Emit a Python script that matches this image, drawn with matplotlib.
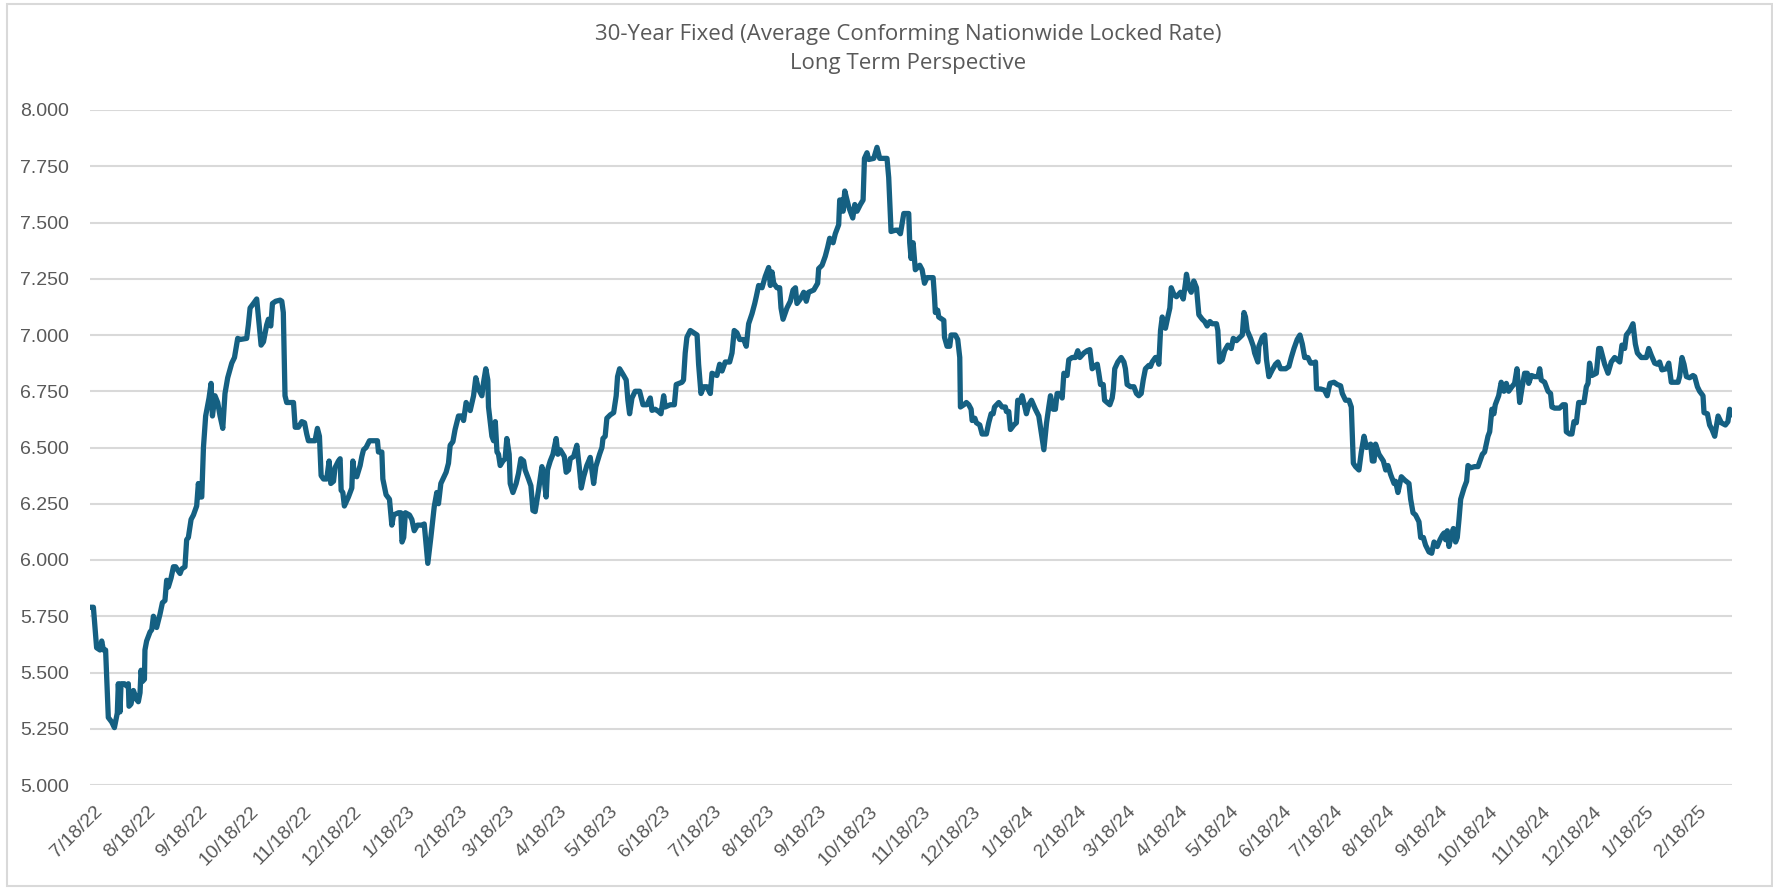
import matplotlib
matplotlib.use("Agg")
import matplotlib.pyplot as plt
import matplotlib.transforms as mtransforms
from matplotlib.patches import Rectangle
from matplotlib.ticker import FixedLocator, FormatStrFormatter
import pandas as pd
import numpy as np

# ---------------- data ----------------
START_DATE = "2022-07-18"

# day offsets from START_DATE and 30-yr fixed locked rate (%)
days_1 = [0, 2, 3.9, 5.9, 6.9, 7.9, 9.2, 10.8, 12.8, 14.4, 16.1, 16.7, 17.7, 18.3, 20.3, 21.6, 22.6, 23, 24.2, 25.6,
          27.5, 28.5, 29.5, 30.1, 30.9, 32.1, 32.4, 33.4, 35.4, 36.4, 37.4, 39.3, 41.3, 42.7, 44.2, 45.2, 46.2, 47.8,
          49.2, 50.5, 51.7, 53.1, 54.1, 56, 57, 58, 59.6, 61, 62.9, 63.9, 64.9, 65.9, 66.9, 68.2, 70.2, 71.4, 72.2,
          73.7, 75.3, 76.7, 78.3, 79.6, 81.2, 83.6, 85.2, 87.1, 88.5, 92.4, 93.4, 94.4, 96.4, 98.3, 99.3, 100.9, 102.3,
          104.2, 105.2, 106.6, 107.6, 109.5, 112.1, 113.1, 114, 115, 116, 118, 120, 121, 122.9, 124.9, 126.5, 127.8,
          128.8, 130.8, 132.7, 134.1, 135.3, 136.3, 137.7, 139.6, 141, 142, 143.6, 144.5, 146.5, 147.5, 148.1, 149.1,
          150, 152.4, 154.4, 155, 155.9, 157.3]
rate_1 = [5.79, 5.79, 5.61, 5.60, 5.64, 5.60, 5.60, 5.30, 5.28, 5.255, 5.32, 5.45, 5.325, 5.45, 5.45, 5.44, 5.45, 5.35,
          5.36, 5.42, 5.38, 5.37, 5.41, 5.51, 5.46, 5.47, 5.60, 5.64, 5.68, 5.69, 5.75, 5.70, 5.76, 5.81, 5.82, 5.91,
          5.88, 5.92, 5.97, 5.97, 5.955, 5.94, 5.96, 5.97, 6.09, 6.10, 6.18, 6.20, 6.24, 6.34, 6.28, 6.28, 6.50, 6.64,
          6.72, 6.785, 6.64, 6.73, 6.70, 6.64, 6.585, 6.74, 6.81, 6.875, 6.90, 6.985, 6.98, 6.985, 7.045, 7.12, 7.14,
          7.16, 7.08, 6.955, 6.97, 7.045, 7.07, 7.04, 7.14, 7.15, 7.155, 7.15, 7.10, 6.73, 6.70, 6.70, 6.70, 6.59,
          6.59, 6.615, 6.61, 6.56, 6.53, 6.53, 6.53, 6.585, 6.55, 6.375, 6.36, 6.36, 6.44, 6.34, 6.35, 6.41, 6.44,
          6.45, 6.31, 6.30, 6.24, 6.28, 6.32, 6.44, 6.38, 6.37]

days_2 = [159.3, 160.3, 161.3, 162.8, 164.8, 167.2, 169.5, 170.1, 172.1, 172.7, 174.6, 176.6, 178, 179, 181.9, 183.3,
          184, 185, 186, 188.4, 189.8, 191.2, 193.1, 195.7, 197.1, 199.2, 201, 203, 204.5, 205.5, 206.9, 210, 211.4,
          212.4, 214, 215.3, 217.3, 219.3, 220.3, 221.8, 224.2, 226.2, 227.5, 229.1, 231.1, 232.1, 233.4, 234.6, 235,
          237, 238, 239, 240, 240.9, 241.9, 243.5, 244.8, 245.8, 247.2, 247.8, 249.4, 251.3, 252.7, 254.1, 255.7,
          256.6, 258.6, 260, 261.2, 262.5, 264.5, 266.5, 268.1, 269, 269.8, 271.4, 273, 273.8, 274.9, 275.9, 277.3,
          279.7, 280.8, 282.2, 283.2, 285.2, 287.1, 288.5, 289.7, 291.1, 293, 295, 297, 298.3, 300.5, 301.9, 302.5,
          303.8, 304.8, 306.8, 308.8, 310.3, 311.1, 312.3, 314.7, 316.2, 317.2, 318.2, 319.6, 321.5, 324.1]
rate_2 = [6.42, 6.46, 6.49, 6.50, 6.53, 6.53, 6.53, 6.48, 6.48, 6.36, 6.29, 6.27, 6.155, 6.20, 6.21, 6.21, 6.08, 6.10,
          6.21, 6.20, 6.18, 6.13, 6.155, 6.155, 6.16, 5.985, 6.10, 6.237, 6.30, 6.25, 6.34, 6.39, 6.43, 6.51, 6.526,
          6.58, 6.64, 6.64, 6.62, 6.70, 6.664, 6.73, 6.81, 6.76, 6.73, 6.79, 6.85, 6.80, 6.68, 6.55, 6.53, 6.615,
          6.48, 6.47, 6.42, 6.44, 6.45, 6.54, 6.47, 6.34, 6.30, 6.34, 6.385, 6.45, 6.44, 6.40, 6.36, 6.33, 6.22,
          6.215, 6.31, 6.415, 6.34, 6.28, 6.40, 6.44, 6.47, 6.50, 6.54, 6.47, 6.49, 6.46, 6.39, 6.40, 6.45, 6.46,
          6.51, 6.415, 6.32, 6.37, 6.42, 6.456, 6.34, 6.415, 6.47, 6.50, 6.54, 6.55, 6.63, 6.645, 6.655, 6.73, 6.815,
          6.85, 6.82, 6.80, 6.71, 6.65, 6.72, 6.75, 6.75]

days_3 = [326.1, 328.4, 330.4, 331.4, 333.3, 335.3, 336.7, 338.3, 339.2, 342.2, 344.6, 345.7, 349.1, 350, 351, 352,
          354, 356, 358, 358.9, 360.3, 361.9, 363.8, 365.8, 366.8, 369.7, 371.3, 372.7, 374.6, 377.2, 378.6, 379.9,
          381.5, 383.1, 385.5, 387, 388.4, 390.4, 392, 392.9, 394.3, 396.3, 398.2, 400.2, 401.2, 402.2, 403.2, 405.1,
          406.7, 407.5, 408.7, 411, 413, 414.6, 416, 416.9, 418.9, 420.9, 422.4, 423.8, 426.8, 429.1, 429.7, 431.7,
          433.6, 435, 436.2, 438.2, 439.5, 441.5, 442.1, 443.5, 444.1, 445.1, 447.4, 449.8, 451, 452.3, 454.3, 455.9,
          456.7, 458.2, 459.2, 462.2, 464.1, 465.7, 470, 471, 472.4, 475, 476.3, 477.9, 479.9, 482.8, 483.4, 484.2,
          485.4, 486.7, 489.3, 490.7]
rate_3 = [6.69, 6.69, 6.72, 6.665, 6.67, 6.66, 6.65, 6.73, 6.68, 6.69, 6.69, 6.78, 6.79, 6.80, 6.92, 6.99, 7.02,
          7.01, 7.00, 6.87, 6.74, 6.77, 6.77, 6.74, 6.83, 6.82, 6.87, 6.84, 6.88, 6.88, 6.92, 7.02, 7.01, 6.98, 6.98,
          6.95, 7.05, 7.095, 7.14, 7.17, 7.22, 7.21, 7.26, 7.30, 7.22, 7.28, 7.23, 7.21, 7.21, 7.12, 7.07, 7.12, 7.15,
          7.20, 7.21, 7.14, 7.16, 7.19, 7.15, 7.19, 7.20, 7.23, 7.295, 7.31, 7.35, 7.39, 7.43, 7.41, 7.45, 7.49, 7.60,
          7.60, 7.55, 7.64, 7.57, 7.52, 7.58, 7.55, 7.58, 7.60, 7.785, 7.81, 7.78, 7.785, 7.834, 7.785, 7.785, 7.70,
          7.46, 7.466, 7.466, 7.45, 7.54, 7.54, 7.41, 7.34, 7.41, 7.29, 7.31, 7.29]

days_4 = [492.1, 493.6, 497.2, 498, 498.5, 499.9, 500.5, 503.5, 503.9, 505.4, 507, 507.8, 510.3, 511.7, 512.9, 513.3,
          515.3, 516.8, 518.2, 519.6, 520.2, 521.8, 522.7, 524.7, 526.1, 528.6, 530, 531.4, 532.6, 533.4, 535.9, 537.9,
          539.8, 540.4, 541.8, 542.8, 544.8, 546.3, 547.1, 548.3, 549.7, 551, 552.2, 553.6, 555.2, 557.5, 559.5,
          560.9, 562.5, 564.1, 565.4, 566.4, 568, 569.3, 570.3, 571.9, 573.3, 574.3, 576.2, 577.2, 579.2, 581.1,
          582.5, 583.7, 586.1, 588, 589.6, 591, 593, 594, 594.9, 595.9, 597.5, 598.3, 599.8, 601.4, 602.8, 603.5,
          604.3, 606.1, 608.1, 609.7, 610.6, 611.6, 613.6, 615.6, 617.1, 618.5, 619.9, 621.1, 622.4, 624.4, 625.4,
          626.4, 628.3, 629.3, 630.3, 631.3, 632.3, 633.3, 634.2, 635.6, 636.8, 637.6, 639.2, 640.7, 643.1, 644.7,
          646, 646.6, 648, 649.4, 650.9, 652.5, 653.9, 655.9]
rate_4 = [7.23, 7.255, 7.255, 7.17, 7.10, 7.11, 7.08, 7.065, 6.99, 6.95, 6.95, 7.00, 7.00, 6.98, 6.90, 6.68, 6.69,
          6.70, 6.69, 6.67, 6.62, 6.63, 6.61, 6.60, 6.56, 6.56, 6.61, 6.65, 6.65, 6.68, 6.70, 6.68, 6.68, 6.66, 6.66,
          6.58, 6.60, 6.61, 6.71, 6.70, 6.73, 6.69, 6.65, 6.69, 6.71, 6.67, 6.64, 6.57, 6.49, 6.61, 6.68, 6.73, 6.67,
          6.67, 6.74, 6.74, 6.72, 6.83, 6.82, 6.89, 6.90, 6.90, 6.93, 6.90, 6.92, 6.93, 6.935, 6.85, 6.865, 6.87,
          6.83, 6.78, 6.78, 6.71, 6.70, 6.69, 6.72, 6.76, 6.85, 6.88, 6.90, 6.88, 6.85, 6.78, 6.77, 6.77, 6.74, 6.73,
          6.74, 6.80, 6.85, 6.865, 6.86, 6.88, 6.90, 6.90, 6.87, 7.02, 7.08, 7.05, 7.03, 7.08, 7.12, 7.21, 7.18,
          7.17, 7.19, 7.16, 7.23, 7.27, 7.21, 7.19, 7.24, 7.21, 7.09, 7.07]

days_5 = [657.3, 658.8, 660.4, 661.8, 664.3, 665.1, 666.1, 667.7, 669.1, 671, 673, 674.2, 676.1, 678.1, 679.5, 680.5,
          681.4, 682.4, 684.4, 686, 686.8, 688.7, 689.3, 691.3, 692.7, 693.8, 695.2, 697.2, 699.1, 700.5, 702.1,
          705.1, 707, 708.4, 710, 711.9, 713.5, 714.9, 716.3, 718.2, 719.8, 721.4, 722.7, 723.3, 725.7, 728, 729.6,
          731.2, 733.6, 735.5, 737.5, 738.5, 740.4, 742.4, 743.8, 745, 746.3, 748.3, 749.7, 751.3, 752.8, 755.2,
          756.2, 757.2, 758.1, 760.1, 762.7, 764.1, 765.4, 767, 769, 769.9, 771.3, 773.3, 775.3, 777.8, 778.8, 780.2,
          781.7, 783.7, 784.7, 786.3, 787.6, 789.6, 791.2, 792.6, 794.5, 796.1, 797.5, 798.5, 799.4, 800.4, 801.4,
          802.8, 804, 805.3, 806.3, 807.3, 808.3, 810.3, 811.8, 812.6, 814.2, 816.5, 818.5, 819.7, 821.1, 822.4]
rate_5 = [7.06, 7.04, 7.06, 7.05, 7.05, 7.02, 6.88, 6.89, 6.93, 6.955, 6.94, 6.985, 6.975, 6.99, 7.00, 7.10, 7.08,
          7.02, 6.985, 6.95, 6.92, 6.88, 6.95, 6.99, 7.00, 6.89, 6.815, 6.845, 6.87, 6.88, 6.85, 6.85, 6.86, 6.90,
          6.94, 6.98, 7.00, 6.96, 6.90, 6.90, 6.875, 6.875, 6.88, 6.76, 6.76, 6.755, 6.73, 6.785, 6.79, 6.78, 6.774,
          6.74, 6.71, 6.71, 6.68, 6.43, 6.415, 6.40, 6.48, 6.55, 6.50, 6.515, 6.44, 6.44, 6.515, 6.47, 6.44, 6.40,
          6.42, 6.38, 6.34, 6.35, 6.30, 6.37, 6.355, 6.34, 6.27, 6.21, 6.20, 6.17, 6.10, 6.10, 6.066, 6.036, 6.03,
          6.08, 6.06, 6.09, 6.11, 6.12, 6.09, 6.13, 6.06, 6.11, 6.14, 6.08, 6.10, 6.18, 6.27, 6.32, 6.35, 6.42, 6.41,
          6.415, 6.415, 6.44, 6.47, 6.48]

days_6 = [824.4, 825.4, 826.7, 827.9, 828.7, 830.7, 832.2, 833.8, 835.2, 836.6, 838.5, 840.1, 841.5, 843.1, 844.6,
          846, 847.6, 848.4, 850, 851.9, 853.9, 854.9, 855.8, 857.8, 859.8, 861.3, 862.1, 863.7, 866.6, 868.6, 870,
          870.6, 872.5, 873.9, 875.1, 876.5, 877.9, 879.4, 881, 882.4, 883.4, 884.3, 885.7, 888.3, 889.7, 890.8,
          893.2, 895.2, 897.1, 899.1, 900.7, 902.1, 903.4, 905, 906, 908, 909.9, 911.3, 912.5, 914.8, 917.8, 919.2,
          920.7, 922.7, 924.3, 925.6, 927, 929.6, 931, 932.5, 934.1, 936.5, 937.4, 938.8, 940, 941.4, 943.3, 945.3,
          946.3, 947.9, 949.2, 951.2, 951.8, 953.8, 955.1, 956.5, 958.1, 960.1, 962, 964.4, 965.9, 966.9, 968.3]
rate_6 = [6.55, 6.57, 6.67, 6.65, 6.69, 6.73, 6.79, 6.75, 6.785, 6.75, 6.77, 6.785, 6.85, 6.70, 6.77, 6.83, 6.83,
          6.785, 6.82, 6.815, 6.815, 6.85, 6.80, 6.79, 6.75, 6.74, 6.68, 6.675, 6.675, 6.69, 6.69, 6.57, 6.56, 6.56,
          6.615, 6.61, 6.70, 6.70, 6.70, 6.77, 6.785, 6.875, 6.82, 6.83, 6.94, 6.94, 6.87, 6.83, 6.88, 6.90, 6.89,
          6.88, 6.955, 6.94, 7.00, 7.02, 7.05, 6.96, 6.92, 6.90, 6.90, 6.94, 6.91, 6.875, 6.87, 6.88, 6.845, 6.85,
          6.875, 6.79, 6.79, 6.79, 6.815, 6.90, 6.87, 6.815, 6.81, 6.82, 6.815, 6.77, 6.75, 6.73, 6.655, 6.65, 6.60,
          6.58, 6.55, 6.64, 6.61, 6.60, 6.615, 6.67, 6.645]

x_tick_labels = ["7/18/22", "8/18/22", "9/18/22", "10/18/22", "11/18/22", "12/18/22", "1/18/23", "2/18/23",
                 "3/18/23", "4/18/23", "5/18/23", "6/18/23", "7/18/23", "8/18/23", "9/18/23", "10/18/23",
                 "11/18/23", "12/18/23", "1/18/24", "2/18/24", "3/18/24", "4/18/24", "5/18/24", "6/18/24",
                 "7/18/24", "8/18/24", "9/18/24", "10/18/24", "11/18/24", "12/18/24", "1/18/25", "2/18/25"]
y_ticks = [5.0, 5.25, 5.5, 5.75, 6.0, 6.25, 6.5, 6.75, 7.0, 7.25, 7.5, 7.75, 8.0]

TITLE = "30-Year Fixed (Average Conforming Nationwide Locked Rate)\nLong Term Perspective"

# ---------------- build series ----------------
all_days = np.array(days_1 + days_2 + days_3 + days_4 + days_5 + days_6)
all_rates = np.array(rate_1 + rate_2 + rate_3 + rate_4 + rate_5 + rate_6)
start = pd.Timestamp(START_DATE)
dates = start + pd.to_timedelta(all_days, unit="D")
tick_dates = pd.to_datetime(x_tick_labels, format="%m/%d/%y")

# ---------------- figure ----------------
W, H = 1774, 891
fig = plt.figure(figsize=(W / 100, H / 100), dpi=100)
fig.patch.set_facecolor("white")

L, R, T, B = 90, 1732, 110, 785
ax = fig.add_axes([L / W, 1 - B / H, (R - L) / W, (B - T) / H])

LINE_COLOR = "#156082"
GRID_COLOR = "#D9D9D9"
TEXT_COLOR = "#595959"
FONT = ["Liberation Sans", "DejaVu Sans"]

ax.plot(dates, all_rates, color=LINE_COLOR, lw=3.8, solid_joinstyle="round", solid_capstyle="round", zorder=3)

ax.set_ylim(5.0, 8.0)
ax.set_xlim(start, dates[-1])
ax.yaxis.set_major_locator(FixedLocator(y_ticks))
ax.yaxis.set_major_formatter(FormatStrFormatter("%.3f"))
ax.set_xticks(tick_dates)
ax.set_xticklabels(x_tick_labels)

ax.grid(axis="y", color=GRID_COLOR, lw=1.5, zorder=0)
ax.grid(axis="x", visible=False)
for s in ax.spines.values():
    s.set_visible(False)
ax.tick_params(axis="both", length=0)
ax.tick_params(axis="y", pad=15, labelsize=14, labelcolor=TEXT_COLOR)
ax.tick_params(axis="x", pad=13, labelsize=14, labelcolor=TEXT_COLOR)
for lab in ax.get_yticklabels():
    lab.set_fontfamily(FONT)
offset = mtransforms.ScaledTranslation(4 / 100, 0, fig.dpi_scale_trans)
for lab in ax.get_xticklabels():
    lab.set_fontfamily(FONT)
    lab.set_rotation(45)
    lab.set_ha("right")
    lab.set_va("top")
    lab.set_rotation_mode("anchor")
    lab.set_transform(lab.get_transform() + offset)

fig.text(908 / W, 1 - 24 / H, TITLE, ha="center", va="top", fontsize=16, color=TEXT_COLOR,
         family=["Open Sans", "DejaVu Sans"], linespacing=1.5)

# chart-area border
fig.patches.append(Rectangle((7 / W, 1 - 886 / H), (1772 - 7) / W, (886 - 4) / H, transform=fig.transFigure,
                             fill=False, edgecolor=GRID_COLOR, lw=1.5))

fig.savefig("out.png", dpi=100, facecolor="white")
